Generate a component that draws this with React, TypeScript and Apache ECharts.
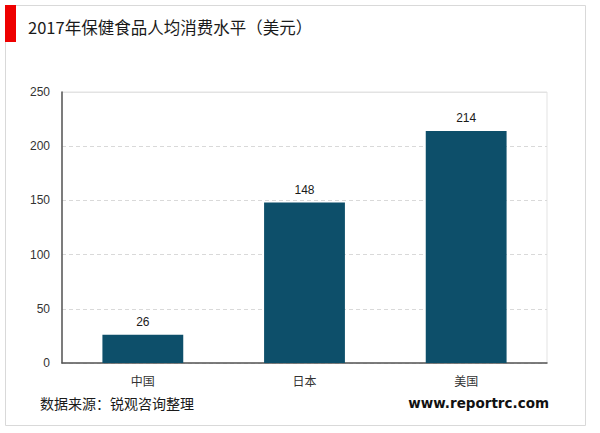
import React, { useEffect, useRef } from "react";
import * as echarts from "echarts";

const categories = ["中国", "日本", "美国"];
const values = [26, 148, 214];
const yTicks = [0, 50, 100, 150, 200, 250];
const titleText = "2017年保健食品人均消费水平（美元）";
const sourceText = "数据来源：锐观咨询整理";
const siteText = "www.reportrc.com";

export default function App() {
  const ref = useRef<HTMLDivElement>(null);
  useEffect(() => {
    document.body.style.margin = "0";
    const chart = echarts.init(ref.current!, null, { renderer: "svg" });
    chart.setOption({
      animation: false,
      backgroundColor: "#ffffff",
      graphic: [
        {
          type: "rect",
          shape: { x: 5.5, y: 5.5, width: 580, height: 420 },
          style: { fill: "none", stroke: "#d9d9d9", lineWidth: 1 },
        },
        {
          type: "rect",
          shape: { x: 5, y: 5, width: 11, height: 37 },
          style: { fill: "#ee0000" },
        },
        {
          type: "line",
          z: 100,
          shape: { x1: 63, y1: 92.5, x2: 547, y2: 92.5 },
          style: { stroke: "#e3e3e3", lineWidth: 1 },
        },
        {
          type: "text",
          x: 28,
          y: 27,
          style: {
            text: titleText,
            font: '16.5px "Noto Sans CJK SC", sans-serif',
            fill: "#1a1a1a",
            textVerticalAlign: "middle",
          },
        },
        {
          type: "text",
          x: 40,
          y: 403,
          style: {
            text: sourceText,
            font: '14px "Noto Sans CJK SC", sans-serif',
            fill: "#1a1a1a",
            textVerticalAlign: "middle",
          },
        },
        {
          type: "text",
          x: 549,
          y: 403,
          style: {
            text: siteText,
            font: 'bold 13.5px "DejaVu Sans", sans-serif',
            fill: "#111111",
            textAlign: "right",
            textVerticalAlign: "middle",
          },
        },
      ],
      grid: {
        left: 62,
        top: 92,
        right: 53,
        bottom: 70,
        show: true,
        borderColor: "#e3e3e3",
        borderWidth: 1,
      },
      xAxis: {
        type: "category",
        data: categories,
        axisLine: { show: true, lineStyle: { color: "#555555", width: 1.5 } },
        axisTick: { show: false },
        axisLabel: {
          margin: 11,
          fontSize: 12,
          color: "#333333",
          fontFamily: '"Noto Sans CJK SC", sans-serif',
        },
      },
      yAxis: {
        type: "value",
        min: yTicks[0],
        max: yTicks[yTicks.length - 1],
        interval: 50,
        axisLine: { show: true, lineStyle: { color: "#555555", width: 1.5 } },
        axisTick: { show: false },
        axisLabel: {
          margin: 12,
          fontSize: 12,
          color: "#333333",
          fontFamily: '"Liberation Sans", Arial, sans-serif',
        },
        splitLine: {
          show: true,
          lineStyle: { color: "#d9d9d9", type: [4, 3] },
        },
      },
      series: [
        {
          type: "bar",
          data: values,
          barWidth: "50%",
          itemStyle: { color: "#0d4f6a" },
          label: {
            show: true,
            position: "top",
            distance: 7,
            fontSize: 12,
            color: "#1a1a1a",
            fontFamily: '"Liberation Sans", Arial, sans-serif',
          },
        },
      ],
    });
    return () => chart.dispose();
  }, []);
  return (
    <div
      ref={ref}
      style={{ position: "fixed", left: 0, top: 0, width: 600, height: 433 }}
    />
  );
}
